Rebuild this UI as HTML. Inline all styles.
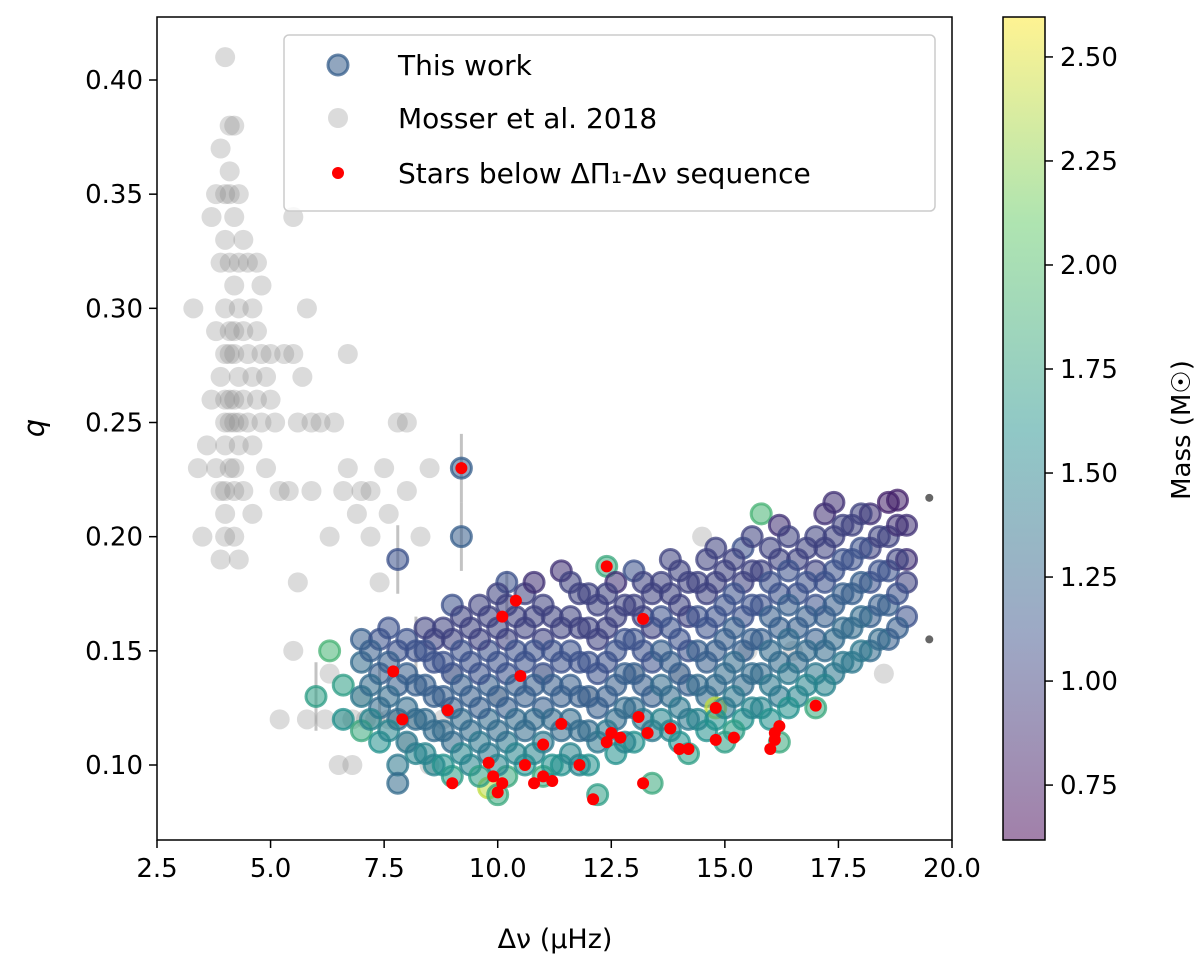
<!DOCTYPE html>
<html><head><meta charset="utf-8"><style>
body{margin:0;background:#fff}
svg text{font-family:"DejaVu Sans","Liberation Sans",sans-serif;fill:#000}
</style></head><body>
<svg id="chart" width="1200" height="966" xmlns="http://www.w3.org/2000/svg"></svg>
<script>
// Gray points (Mosser et al. 2018): [dnu, q]
const mosserPts=[[3.3,.30],[3.4,.23],[3.5,.20],[3.6,.24],[3.7,.34],[3.7,.26],[3.8,.35],[3.8,.29],[3.8,.23],[3.9,.37],[3.9,.32],[3.9,.27],[3.9,.22],[3.9,.19],[4.0,.41],[4.0,.35],[4.0,.33],[4.0,.30],[4.0,.28],[4.0,.25],[4.0,.24],[4.0,.21],[4.0,.20],[4.1,.38],[4.1,.36],[4.1,.32],[4.1,.29],[4.1,.26],[4.1,.23],[4.2,.38],[4.2,.34],[4.2,.31],[4.2,.28],[4.2,.25],[4.2,.22],[4.2,.20],[4.3,.35],[4.3,.30],[4.3,.27],[4.3,.24],[4.3,.19],[4.4,.33],[4.4,.29],[4.4,.26],[4.4,.22],[4.5,.32],[4.5,.28],[4.5,.25],[4.6,.30],[4.6,.27],[4.6,.24],[4.6,.21],[4.7,.32],[4.7,.29],[4.7,.26],[4.8,.31],[4.8,.28],[4.8,.25],[4.9,.27],[4.9,.23],[5.0,.28],[5.0,.26],[5.1,.25],[5.2,.22],[5.3,.28],[5.4,.22],[5.5,.28],[5.5,.34],[5.6,.25],[5.6,.18],[5.7,.27],[5.8,.30],[5.9,.22],[5.9,.25],[6.1,.25],[6.3,.20],[6.4,.25],[6.6,.22],[6.7,.28],[6.7,.23],[6.9,.21],[7.0,.22],[7.2,.22],[7.4,.18],[7.5,.23],[7.6,.21],[7.8,.25],[8.0,.25],[8.0,.22],[8.3,.20],[8.5,.23],[5.2,.12],[5.5,.15],[5.8,.12],[6.3,.14],[6.5,.10],[6.8,.12],[7.3,.12],[7.8,.12],[8.5,.10],[7.0,.13],[14.5,.20],[18.5,.14],[7.2,.20],[6.8,.10],[8.0,.11],[9.0,.14],[10.0,.13],[11.0,.14],[12.0,.13],[13.0,.14],[14.0,.14],[15.5,.15],[16.5,.15],[4.0,.26],[4.1,.25],[4.2,.26],[4.3,.25],[4.1,.28],[4.2,.29],[4.0,.22],[4.2,.23],[4.1,.35],[4.3,.32],[6.2,.12],[6.6,.12],[7.1,.12],[7.6,.12],[8.2,.12],[8.8,.12]];
// This work: [dnu, q, mass]
const workPts=[[6.6,.12,1.6],[6.6,.135,1.7],[6.0,.13,1.7],[6.3,.15,1.9],[7.0,.115,1.8],[7.0,.13,1.4],[7.0,.145,1.3],[7.0,.155,1.2],[7.4,.11,1.6],[7.4,.125,1.3],[7.4,.14,1.2],[7.4,.155,1.1],[7.8,.10,1.4],[7.8,.092,1.3],[7.8,.12,1.3],[7.8,.135,1.2],[7.8,.15,1.1],[7.8,.19,1.1],[8.2,.105,1.5],[8.2,.12,1.3],[8.2,.135,1.2],[8.2,.15,1.1],[8.6,.10,1.5],[8.6,.115,1.3],[8.6,.13,1.2],[8.6,.145,1.1],[8.6,.155,1.0],[9.0,.095,1.7],[9.0,.11,1.3],[9.0,.125,1.2],[9.0,.14,1.1],[9.0,.155,1.0],[9.0,.17,1.1],[9.2,.23,1.2],[9.2,.20,1.2],[9.4,.10,1.5],[9.4,.115,1.3],[9.4,.13,1.2],[9.4,.145,1.1],[9.4,.16,1.0],[9.8,.09,2.4],[9.8,.105,1.4],[9.8,.12,1.3],[9.8,.135,1.2],[9.8,.15,1.1],[9.8,.165,1.0],[10.2,.095,1.8],[10.0,.087,1.8],[10.2,.11,1.4],[10.2,.125,1.2],[10.2,.14,1.1],[10.2,.155,1.0],[10.2,.17,1.0],[10.2,.18,1.1],[10.6,.10,1.6],[10.6,.115,1.3],[10.6,.13,1.2],[10.6,.145,1.1],[10.6,.16,1.0],[10.6,.175,1.0],[11.0,.095,1.8],[11.0,.11,1.4],[11.0,.125,1.2],[11.0,.14,1.1],[11.0,.155,1.0],[11.0,.17,1.0],[11.4,.10,1.6],[11.4,.115,1.3],[11.4,.13,1.2],[11.4,.145,1.1],[11.4,.16,1.0],[11.4,.185,0.9],[11.8,.10,1.5],[11.8,.115,1.3],[11.8,.13,1.2],[11.8,.145,1.1],[11.8,.16,1.0],[11.8,.175,1.0],[12.2,.087,1.7],[12.2,.11,1.4],[12.2,.125,1.2],[12.2,.14,1.1],[12.2,.155,1.0],[12.2,.17,1.0],[12.4,.187,1.8],[12.6,.105,1.6],[12.6,.12,1.3],[12.6,.135,1.2],[12.6,.15,1.1],[12.6,.165,1.0],[12.6,.18,0.9],[13.0,.11,1.6],[13.0,.125,1.3],[13.0,.14,1.2],[13.0,.155,1.1],[13.0,.17,1.0],[13.0,.185,1.1],[13.4,.092,1.8],[13.4,.115,1.4],[13.4,.13,1.2],[13.4,.145,1.1],[13.4,.16,1.0],[13.4,.175,1.0],[13.8,.115,1.5],[13.8,.13,1.3],[13.8,.145,1.2],[13.8,.16,1.1],[13.8,.175,1.0],[13.8,.19,1.0],[14.2,.105,1.7],[14.2,.12,1.4],[14.2,.135,1.2],[14.2,.15,1.1],[14.2,.165,1.0],[14.2,.18,1.0],[14.6,.115,1.6],[14.6,.13,1.3],[14.6,.145,1.2],[14.6,.16,1.1],[14.6,.175,1.0],[14.6,.19,1.0],[14.8,.125,2.4],[15.0,.11,1.7],[15.0,.125,1.4],[15.0,.14,1.3],[15.0,.155,1.2],[15.0,.17,1.1],[15.0,.185,1.0],[15.4,.12,1.6],[15.4,.135,1.3],[15.4,.15,1.2],[15.4,.165,1.1],[15.4,.18,1.0],[15.4,.195,1.1],[15.8,.125,1.5],[15.8,.14,1.3],[15.8,.155,1.2],[15.8,.17,1.1],[15.8,.185,1.0],[15.8,.21,1.9],[16.2,.11,1.8],[16.2,.13,1.4],[16.2,.145,1.3],[16.2,.16,1.2],[16.2,.175,1.1],[16.2,.19,1.0],[16.2,.205,0.9],[16.6,.13,1.5],[16.6,.145,1.3],[16.6,.16,1.2],[16.6,.175,1.1],[16.6,.19,1.0],[17.0,.125,1.8],[17.0,.14,1.4],[17.0,.155,1.2],[17.0,.17,1.1],[17.0,.185,1.0],[17.0,.20,1.0],[17.4,.14,1.4],[17.4,.155,1.3],[17.4,.17,1.2],[17.4,.185,1.1],[17.4,.20,1.0],[17.4,.215,0.9],[17.8,.145,1.4],[17.8,.16,1.3],[17.8,.175,1.2],[17.8,.19,1.1],[17.8,.205,1.0],[18.2,.15,1.3],[18.2,.165,1.2],[18.2,.18,1.1],[18.2,.195,1.0],[18.2,.21,0.9],[18.6,.155,1.2],[18.6,.17,1.2],[18.6,.185,1.1],[18.6,.20,1.0],[18.6,.215,0.8],[19.0,.165,1.1],[19.0,.18,1.0],[19.0,.19,0.9],[19.0,.205,0.9],[18.8,.216,0.8]];
const workPts2=[[7.2,.12,1.5],[7.2,.135,1.3],[7.2,.15,1.2],[7.6,.115,1.5],[7.6,.13,1.3],[7.6,.145,1.2],[7.6,.16,1.1],[8.0,.11,1.4],[8.0,.125,1.3],[8.0,.14,1.2],[8.0,.155,1.1],[8.4,.105,1.5],[8.4,.12,1.3],[8.4,.135,1.2],[8.4,.15,1.1],[8.4,.16,1.0],[8.8,.10,1.6],[8.8,.115,1.3],[8.8,.13,1.2],[8.8,.145,1.1],[8.8,.16,1.0],[9.2,.105,1.5],[9.2,.12,1.3],[9.2,.135,1.2],[9.2,.15,1.1],[9.2,.165,1.0],[9.6,.095,1.7],[9.6,.11,1.4],[9.6,.125,1.2],[9.6,.14,1.1],[9.6,.155,1.0],[9.6,.17,1.0],[10.0,.10,1.5],[10.0,.115,1.3],[10.0,.13,1.2],[10.0,.145,1.1],[10.0,.16,1.0],[10.0,.175,1.0],[10.4,.105,1.5],[10.4,.12,1.3],[10.4,.135,1.2],[10.4,.15,1.1],[10.4,.165,1.0],[10.8,.105,1.5],[10.8,.12,1.3],[10.8,.135,1.2],[10.8,.15,1.1],[10.8,.165,1.0],[10.8,.18,0.9],[11.2,.10,1.6],[11.2,.12,1.3],[11.2,.135,1.2],[11.2,.15,1.1],[11.2,.165,1.0],[11.6,.105,1.5],[11.6,.12,1.3],[11.6,.135,1.2],[11.6,.15,1.1],[11.6,.165,1.0],[11.6,.18,1.0],[12.0,.10,1.6],[12.0,.115,1.3],[12.0,.13,1.2],[12.0,.145,1.1],[12.0,.16,1.0],[12.0,.175,1.0],[12.4,.115,1.4],[12.4,.13,1.2],[12.4,.145,1.1],[12.4,.16,1.0],[12.4,.175,1.0],[12.8,.11,1.5],[12.8,.125,1.3],[12.8,.14,1.2],[12.8,.155,1.1],[12.8,.17,1.0],[13.2,.12,1.4],[13.2,.135,1.2],[13.2,.15,1.1],[13.2,.165,1.0],[13.2,.18,1.0],[13.6,.12,1.5],[13.6,.135,1.3],[13.6,.15,1.2],[13.6,.165,1.1],[13.6,.18,1.0],[14.0,.11,1.6],[14.0,.125,1.4],[14.0,.14,1.2],[14.0,.155,1.1],[14.0,.17,1.0],[14.0,.185,1.0],[14.4,.12,1.5],[14.4,.135,1.3],[14.4,.15,1.2],[14.4,.165,1.1],[14.4,.18,1.0],[14.8,.12,1.6],[14.8,.135,1.3],[14.8,.15,1.2],[14.8,.165,1.1],[14.8,.18,1.0],[14.8,.195,1.0],[15.2,.115,1.7],[15.2,.13,1.4],[15.2,.145,1.3],[15.2,.16,1.2],[15.2,.175,1.1],[15.2,.19,1.0],[15.6,.125,1.5],[15.6,.14,1.3],[15.6,.155,1.2],[15.6,.17,1.1],[15.6,.185,1.0],[15.6,.20,1.0],[16.0,.12,1.6],[16.0,.135,1.4],[16.0,.15,1.3],[16.0,.165,1.2],[16.0,.18,1.1],[16.0,.195,1.0],[16.4,.125,1.6],[16.4,.14,1.4],[16.4,.155,1.3],[16.4,.17,1.2],[16.4,.185,1.1],[16.4,.20,1.0],[16.8,.135,1.5],[16.8,.15,1.3],[16.8,.165,1.2],[16.8,.18,1.1],[16.8,.195,1.0],[17.2,.135,1.5],[17.2,.15,1.3],[17.2,.165,1.2],[17.2,.18,1.1],[17.2,.195,1.0],[17.2,.21,0.9],[17.6,.145,1.4],[17.6,.16,1.3],[17.6,.175,1.2],[17.6,.19,1.1],[17.6,.205,1.0],[18.0,.15,1.4],[18.0,.165,1.3],[18.0,.18,1.2],[18.0,.195,1.1],[18.0,.21,1.0],[18.4,.155,1.3],[18.4,.17,1.2],[18.4,.185,1.1],[18.4,.20,1.0],[18.8,.16,1.2],[18.8,.175,1.1],[18.8,.19,1.0],[18.8,.205,0.9]];
// Stars below sequence: [dnu, q]
const redPts=[[7.7,.141],[7.9,.12],[8.9,.124],[9.0,.092],[9.2,.23],[9.8,.101],[9.9,.095],[10.0,.088],[10.1,.092],[10.1,.165],[10.4,.172],[10.5,.139],[10.6,.10],[10.8,.092],[11.0,.109],[11.0,.095],[11.2,.093],[11.4,.118],[11.8,.10],[12.1,.085],[12.4,.187],[12.4,.11],[12.5,.114],[12.7,.112],[13.1,.121],[13.2,.164],[13.3,.114],[13.2,.092],[13.8,.116],[14.0,.107],[14.2,.107],[14.8,.125],[14.8,.111],[15.2,.112],[16.0,.107],[16.1,.111],[16.2,.117],[16.1,.114],[17.0,.126]];
const xTicks=[2.5,5.0,7.5,10.0,12.5,15.0,17.5,20.0];
const yTicks=[0.10,0.15,0.20,0.25,0.30,0.35,0.40];
const cTicks=[0.75,1.00,1.25,1.50,1.75,2.00,2.25,2.50];

const L=157,R=952,T=17,B=840;
const X=v=>L+(v-2.5)/17.5*(R-L);
const Y=v=>765-(v-0.10)/0.30*685;
const CMIN=0.618,CMAX=2.596;
const CY=v=>840-(v-CMIN)/(CMAX-CMIN)*823;
const vir=[[68,1,84],[59,82,139],[33,145,140],[94,201,98],[253,231,37]];
function vc(m){let t=Math.max(0,Math.min(1,(m-CMIN)/(CMAX-CMIN)))*4;let i=Math.min(3,Math.floor(t)),f=t-i;let a=vir[i],b=vir[i+1];return `rgb(${a.map((v,k)=>Math.round(v+(b[k]-v)*f)).join(',')})`;}
const svg=document.getElementById('chart');const NS='http://www.w3.org/2000/svg';
function el(t,a,p){const e=document.createElementNS(NS,t);for(const k in a)e.setAttribute(k,a[k]);(p||svg).appendChild(e);return e;}
const defs=el('defs',{});
const cp=el('clipPath',{id:'cp'},defs);el('rect',{x:L,y:T,width:R-L,height:B-T},cp);
const g=el('g',{'clip-path':'url(#cp)'});


mosserPts.forEach(p=>{const c=el('circle',{cx:X(p[0]),cy:Y(p[1]),r:10,fill:'#888','fill-opacity':0.3},g);

});
[[7.8,.19],[9.2,.23],[9.2,.20],[7.4,.13],[6.0,.13],[8.2,.15],[10.2,.17]].forEach(p=>{const l=el('line',{x1:X(p[0]),x2:X(p[0]),y1:Y(p[1]-0.015),y2:Y(p[1]+0.015),stroke:'#aaa','stroke-width':3,opacity:0.7},g);

});
workPts.concat(workPts2).forEach(p=>{const c=el('circle',{cx:X(p[0]),cy:Y(p[1]),r:10,fill:vc(p[2]),'fill-opacity':0.55,stroke:vc(p[2]),'stroke-opacity':0.75,'stroke-width':3},g);

});
redPts.forEach(p=>{const c=el('circle',{cx:X(p[0]),cy:Y(p[1]),r:6,fill:'#ff0000'},g);

});
[[19.5,.217],[19.5,.155]].forEach(p=>{const c=el('circle',{cx:X(p[0]),cy:Y(p[1]),r:4,fill:'#666'},g);

});
const fr=el('rect',{x:L,y:T,width:R-L,height:B-T,fill:'none',stroke:'#000','stroke-width':1.5});


xTicks.forEach(v=>{el('line',{x1:X(v),x2:X(v),y1:B,y2:B+8,stroke:'#000','stroke-width':1.5});
const t=el('text',{x:X(v),y:B+37,'font-size':26,'text-anchor':'middle'});t.textContent=v.toFixed(1);

});
yTicks.forEach(v=>{el('line',{x1:L-8,x2:L,y1:Y(v),y2:Y(v),stroke:'#000','stroke-width':1.5});
const t=el('text',{x:L-14,y:Y(v)+9,'font-size':26,'text-anchor':'end'});t.textContent=v.toFixed(2);

});
let t=el('text',{x:555,y:948,'font-size':27,'text-anchor':'middle'});t.textContent='Δν (μHz)';


t=el('text',{x:44,y:428,'font-size':29,'font-style':'italic','text-anchor':'middle',transform:'rotate(-90 44 428)'});t.textContent='q';


// legend
const lg=el('g',{});


el('rect',{x:284,y:35,width:651,height:176,rx:5,fill:'#fff','fill-opacity':0.8,stroke:'#ccc','stroke-width':1.5},lg);
el('circle',{cx:338,cy:65,r:10,fill:vc(1.2),'fill-opacity':0.55,stroke:vc(1.2),'stroke-opacity':0.75,'stroke-width':3},lg);
el('circle',{cx:338,cy:118,r:10,fill:'#888','fill-opacity':0.3},lg);
el('circle',{cx:338,cy:173,r:6,fill:'#f00'},lg);
[['This work',75],['Mosser et al. 2018',128],['Stars below ΔΠ₁-Δν sequence',183]].forEach(a=>{const e=el('text',{x:398,y:a[1],'font-size':28},lg);e.textContent=a[0];

});
// colorbar
const gr=el('linearGradient',{id:'cb',x1:0,y1:1,x2:0,y2:0},defs);
vir.forEach((c,i)=>el('stop',{offset:i/4,'stop-color':`rgb(${c})`,'stop-opacity':0.5},gr));
const cb=el('rect',{x:1003,y:17,width:42,height:823,fill:'url(#cb)',stroke:'#000','stroke-width':1.5});


cTicks.forEach(v=>{el('line',{x1:1045,x2:1053,y1:CY(v),y2:CY(v),stroke:'#000','stroke-width':1.5});
const e=el('text',{x:1060,y:CY(v)+9,'font-size':26});e.textContent=v.toFixed(2);

});
t=el('text',{x:1190,y:430,'font-size':26,'text-anchor':'middle',transform:'rotate(-90 1190 430)'});t.textContent='Mass (M☉)';


</script>
</body></html>
